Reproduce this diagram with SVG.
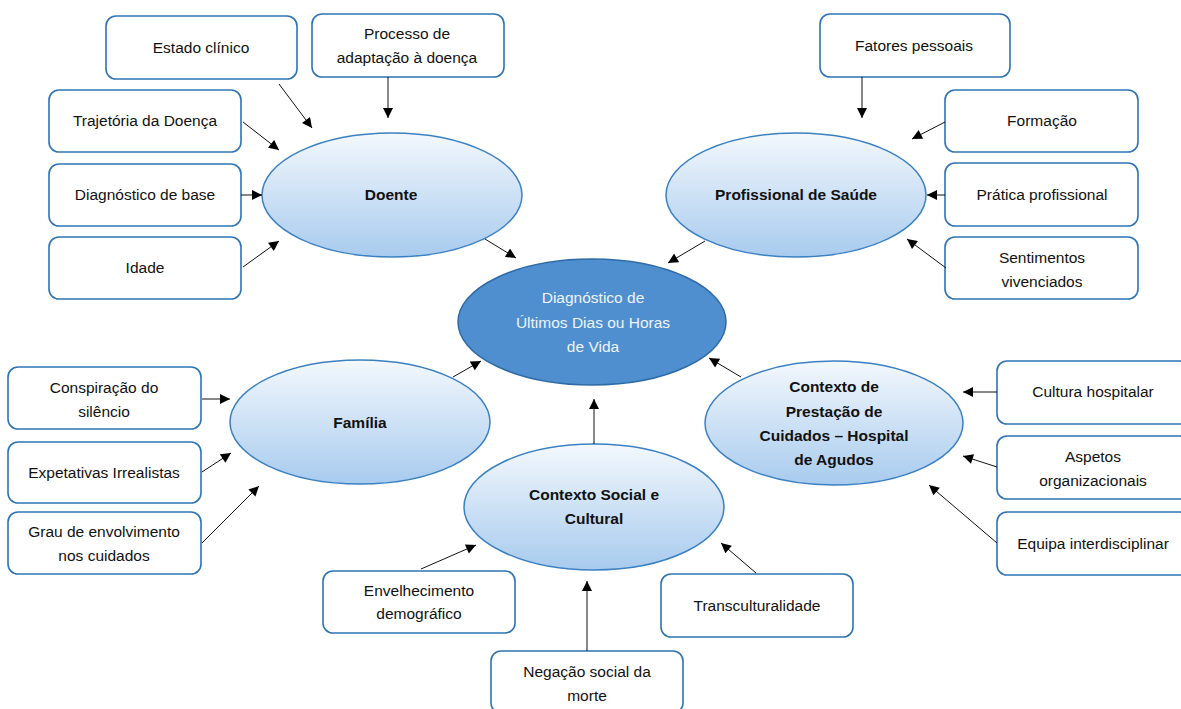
<svg xmlns="http://www.w3.org/2000/svg" width="1181" height="709" viewBox="0 0 1181 709">
<defs>
<linearGradient id="eg" x1="0" y1="0" x2="0" y2="1">
<stop offset="0" stop-color="#f3f8fd"/>
<stop offset="1" stop-color="#a8cbee"/>
</linearGradient>
<marker id="ah" viewBox="0 0 10 10" refX="10" refY="5" markerWidth="11" markerHeight="10" markerUnits="userSpaceOnUse" orient="auto">
<path d="M0,0 L10,5 L0,10 z" fill="#000"/>
</marker>
</defs>
<style>
.box{fill:#fff;stroke:#2e74b5;stroke-width:1.6}
.ell{fill:url(#eg);stroke:#3b80c2;stroke-width:1.5}
.main{fill:#4f8fcf;stroke:#2f6ba6;stroke-width:1.5}
text{font-family:"Liberation Sans",Arial,sans-serif;font-size:15.5px;fill:#111;text-anchor:middle}
.b{font-weight:bold}
.w{fill:#eef4fb}
.c line{stroke:#111;stroke-width:1;marker-end:url(#ah)}
</style>
<rect width="1181" height="709" fill="#fff"/>

<g id="n-center"><ellipse class="main" cx="592" cy="322" rx="134" ry="63"/>
<text class="w" x="593" y="303">Diagnóstico de</text><text class="w" x="593" y="328">Últimos Dias ou Horas</text><text class="w" x="593" y="352">de Vida</text></g>

<g id="n-doente"><ellipse class="ell" cx="392" cy="195" rx="130" ry="62"/><text class="b" x="391" y="200">Doente</text></g>
<g id="n-prof"><ellipse class="ell" cx="796" cy="195" rx="130" ry="62"/><text class="b" x="796" y="200">Profissional de Saúde</text></g>
<g id="n-familia"><ellipse class="ell" cx="360" cy="422" rx="130" ry="62"/><text class="b" x="360" y="428">Família</text></g>
<g id="n-social"><ellipse class="ell" cx="594" cy="507" rx="130" ry="63"/><text class="b" x="594" y="500">Contexto Social e</text><text class="b" x="594" y="524">Cultural</text></g>
<g id="n-hospital"><ellipse class="ell" cx="834" cy="423" rx="129" ry="62"/><text class="b" x="834" y="392">Contexto de</text><text class="b" x="834" y="417">Prestação de</text><text class="b" x="834" y="441">Cuidados – Hospital</text><text class="b" x="834" y="465">de Agudos</text></g>

<g id="b-estado"><rect class="box" x="106" y="16" width="191" height="63" rx="10"/><text x="201" y="53">Estado clínico</text></g>
<g id="b-processo"><rect class="box" x="312" y="14" width="192" height="63" rx="10"/><text x="407" y="39">Processo de</text><text x="407" y="63">adaptação à doença</text></g>
<g id="b-trajetoria"><rect class="box" x="49" y="90" width="192" height="62" rx="10"/><text x="145" y="126">Trajetória da Doença</text></g>
<g id="b-diagbase"><rect class="box" x="49" y="164" width="192" height="62" rx="10"/><text x="145" y="200">Diagnóstico de base</text></g>
<g id="b-idade"><rect class="box" x="49" y="237" width="192" height="62" rx="10"/><text x="145" y="273">Idade</text></g>

<g id="b-fatores"><rect class="box" x="820" y="14" width="190" height="63" rx="10"/><text x="914" y="51">Fatores pessoais</text></g>
<g id="b-formacao"><rect class="box" x="945" y="90" width="193" height="62" rx="10"/><text x="1042" y="126">Formação</text></g>
<g id="b-pratica"><rect class="box" x="945" y="163" width="193" height="63" rx="10"/><text x="1042" y="200">Prática profissional</text></g>
<g id="b-sentimentos"><rect class="box" x="945" y="237" width="193" height="62" rx="10"/><text x="1042" y="263">Sentimentos</text><text x="1042" y="287">vivenciados</text></g>

<g id="b-conspiracao"><rect class="box" x="8" y="367" width="193" height="62" rx="10"/><text x="104" y="393">Conspiração do</text><text x="104" y="417">silêncio</text></g>
<g id="b-expetativas"><rect class="box" x="8" y="442" width="193" height="61" rx="10"/><text x="104" y="478">Expetativas Irrealistas</text></g>
<g id="b-grau"><rect class="box" x="8" y="512" width="193" height="62" rx="10"/><text x="104" y="537">Grau de envolvimento</text><text x="104" y="561">nos cuidados</text></g>

<g id="b-envelhecimento"><rect class="box" x="323" y="571" width="192" height="62" rx="10"/><text x="419" y="596">Envelhecimento</text><text x="419" y="619">demográfico</text></g>
<g id="b-negacao"><rect class="box" x="491" y="651" width="192" height="62" rx="10"/><text x="587" y="677">Negação social da</text><text x="587" y="701">morte</text></g>
<g id="b-trans"><rect class="box" x="661" y="574" width="192" height="63" rx="10"/><text x="757" y="611">Transculturalidade</text></g>

<g id="b-cultura"><rect class="box" x="997" y="361" width="192" height="63" rx="10"/><text x="1093" y="397">Cultura hospitalar</text></g>
<g id="b-aspetos"><rect class="box" x="997" y="436" width="192" height="63" rx="10"/><text x="1093" y="462">Aspetos</text><text x="1093" y="486">organizacionais</text></g>
<g id="b-equipa"><rect class="box" x="997" y="512" width="192" height="63" rx="10"/><text x="1093" y="549">Equipa interdisciplinar</text></g>

<g id="connectors" class="c">
<line x1="279" y1="84" x2="312" y2="128"/>
<line x1="388" y1="77" x2="388" y2="118"/>
<line x1="243" y1="122" x2="279" y2="150"/>
<line x1="241" y1="195" x2="262" y2="195"/>
<line x1="243" y1="267" x2="279" y2="241"/>
<line x1="485" y1="239" x2="516" y2="258"/>
<line x1="862" y1="77" x2="862" y2="118"/>
<line x1="945" y1="122" x2="912" y2="139"/>
<line x1="945" y1="195" x2="927" y2="195"/>
<line x1="946" y1="268" x2="907" y2="239"/>
<line x1="705" y1="241" x2="668" y2="263"/>
<line x1="202" y1="399" x2="230" y2="399"/>
<line x1="202" y1="472" x2="231" y2="453"/>
<line x1="202" y1="543" x2="259" y2="486"/>
<line x1="453" y1="377" x2="481" y2="361"/>
<line x1="594" y1="444" x2="594" y2="399"/>
<line x1="421" y1="569" x2="476" y2="545"/>
<line x1="587" y1="651" x2="587" y2="581"/>
<line x1="756" y1="573" x2="721" y2="543"/>
<line x1="741" y1="377" x2="709" y2="358"/>
<line x1="997" y1="392" x2="963" y2="392"/>
<line x1="997" y1="467" x2="963" y2="456"/>
<line x1="997" y1="543" x2="929" y2="485"/>
</g>
</svg>
